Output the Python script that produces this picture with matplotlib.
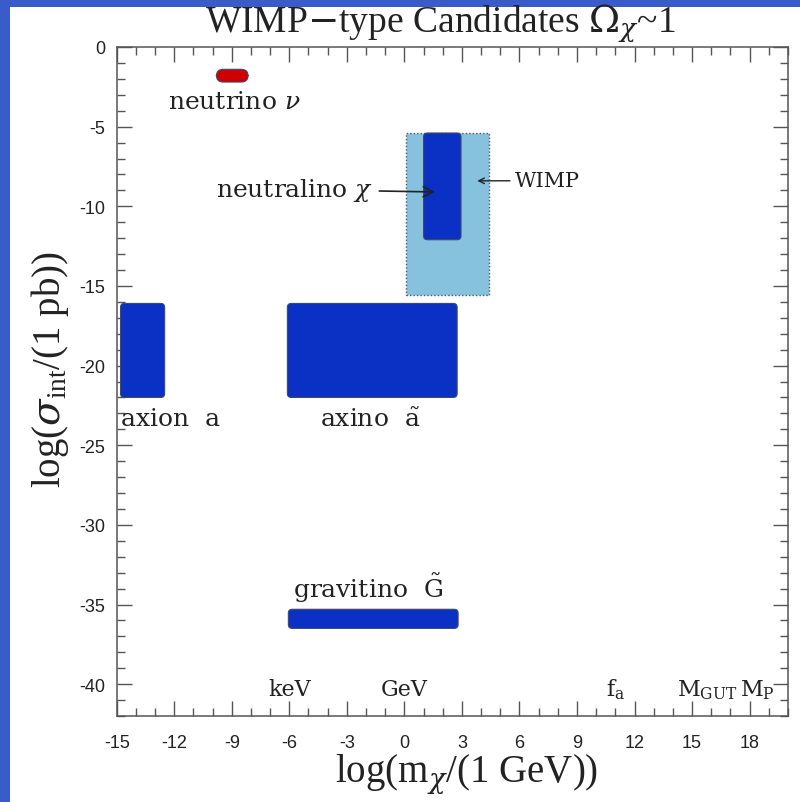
import matplotlib
matplotlib.use('Agg')
import matplotlib.pyplot as plt
from matplotlib.patches import FancyBboxPatch, Rectangle
from matplotlib.ticker import MultipleLocator

plt.rcParams['axes.unicode_minus'] = False
plt.rcParams['mathtext.fontset'] = 'dejavuserif'

# candidate regions: log(m / GeV) range and log(sigma / pb) range
names = ['neutrino', 'neutralino', 'axion', 'axino', 'gravitino']
m_lo = [-9.8, 1.0, -14.8, -6.1, -6.05]
m_hi = [-8.15, 2.95, -12.5, 2.75, 2.8]
s_lo = [-2.2, -12.1, -22.0, -22.0, -36.5]
s_hi = [-1.4, -5.4, -16.1, -16.1, -35.3]

# generic WIMP band
wimp_m = [0.1, 4.4]
wimp_s = [-15.6, -5.4]

# mass scale markers along the bottom
scale_labels = ['keV', 'GeV', r'f$_\mathregular{a}$', r'M$_\mathregular{GUT}$', r'M$_\mathregular{P}$']
scale_pos = [-6, 0, 11, 15.8, 18.4]

dark_blue = '#0a30c4'
colors = ['#d00000', dark_blue, dark_blue, dark_blue, dark_blue]

fig = plt.figure(figsize=(8, 8.03), dpi=100)
fig.patch.set_facecolor('#3a5ccb')
fig.patches.append(Rectangle((10 / 800, 0), 1, 1 - 8 / 803, transform=fig.transFigure,
                             facecolor='white', edgecolor='none', zorder=-10))

ax = fig.add_axes([116.7 / 800, 1 - 717 / 803, (788 - 116.7) / 800, (717 - 48) / 803])
ax.set_xlim(-15, 20)
ax.set_ylim(-42, 0)

# WIMP band (dotted edge)
ax.add_patch(Rectangle((wimp_m[0], wimp_s[0]), wimp_m[1] - wimp_m[0], wimp_s[1] - wimp_s[0],
                       facecolor='#86c1de', edgecolor='#4a5a70', linestyle=(0, (1, 1.5)),
                       linewidth=1, zorder=2))

aspect = 19.19 / 15.93
for i in range(len(names)):
    r = 0.35 if names[i] == 'neutrino' else 0.2
    ax.add_patch(FancyBboxPatch((m_lo[i], s_lo[i]), m_hi[i] - m_lo[i], s_hi[i] - s_lo[i],
                                boxstyle='round,pad=0,rounding_size=%g' % r,
                                mutation_aspect=aspect, facecolor=colors[i],
                                edgecolor='#40486a', linewidth=0.8, zorder=3))

lab = dict(family='DejaVu Serif', fontsize=18, color='#222222')
ax.text(-8.85, -3.45, r'neutrino $\nu$', ha='center', va='center', **lab)
ax.text(-14.75, -23.35, 'axion  a', ha='left', va='center', **lab)
ax.text(-1.8, -23.35, r'axino  $\tilde{\mathregular{a}}$', ha='center', va='center', **lab)
ax.text(-1.9, -33.9, r'gravitino  $\tilde{\mathregular{G}}$', ha='center', va='center', **lab)
ax.annotate(r'neutralino $\chi$', xy=(1.6, -9.1), xytext=(-1.6, -8.95), ha='right', va='center',
            arrowprops=dict(arrowstyle='->', color='#222222', lw=1.2, shrinkA=2, shrinkB=0), **lab)
ax.annotate('', xy=(3.8, -8.4), xytext=(5.5, -8.4),
            arrowprops=dict(arrowstyle='->', color='#222222', lw=1.0, shrinkA=0, shrinkB=0))
ax.text(5.75, -8.4, 'WIMP', ha='left', va='center', family='DejaVu Serif', fontsize=15, color='#222222')

for p, t in zip(scale_pos, scale_labels):
    ax.text(p, -40.3, t, ha='center', va='center', family='DejaVu Serif', fontsize=16, color='#222222')

ax.xaxis.set_major_locator(MultipleLocator(3))
ax.xaxis.set_minor_locator(MultipleLocator(1))
ax.yaxis.set_major_locator(MultipleLocator(5))
ax.yaxis.set_minor_locator(MultipleLocator(1))
ax.set_xticks(range(-15, 19, 3))
ax.set_yticks(range(-40, 1, 5))
ax.tick_params(which='both', direction='in', top=True, right=True, color='#555555')
ax.tick_params(which='major', length=11, width=1)
ax.tick_params(which='minor', length=6, width=1)
ax.tick_params(axis='x', pad=13)
ax.tick_params(axis='y', pad=8)
for lbl in ax.get_xticklabels() + ax.get_yticklabels():
    lbl.set_family('Liberation Sans')
    lbl.set_fontsize(13)
    lbl.set_color('#222222')
for s in ax.spines.values():
    s.set_color('#555555')
    s.set_linewidth(1.1)

fig.text(440 / 800, 1 - 24 / 803, r'WIMP$-$type Candidates $\Omega_\chi$~1', ha='center', va='center',
         family='Liberation Serif', fontsize=27, color='#222222')
fig.text(467 / 800, 1 - 775 / 803, r'log(m$_\chi$/(1 GeV))', ha='center', va='center',
         family='Liberation Serif', fontsize=28, color='#222222')
fig.text(50 / 800, 1 - 370 / 803, r'log($\sigma_{\mathregular{int}}$/(1 pb))', ha='center', va='center',
         rotation=90, family='Liberation Serif', fontsize=28, color='#222222')

fig.savefig('out.png', dpi=100, facecolor=fig.get_facecolor())
